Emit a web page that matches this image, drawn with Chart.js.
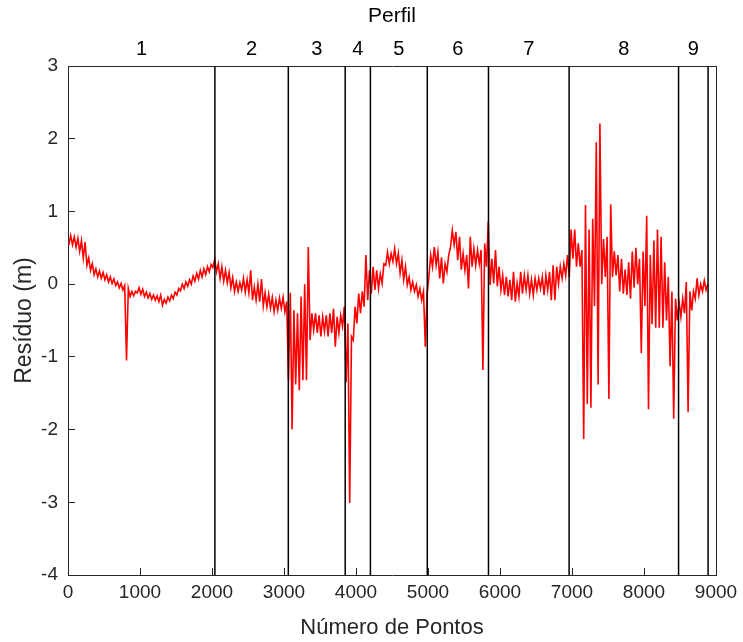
<!DOCTYPE html>
<html>
<head>
<meta charset="utf-8">
<script src="https://cdn.jsdelivr.net/npm/chart.js@4"></script>
<style>
  body { margin: 0; background: #fff; }
  #box { width: 743px; height: 642px; }
</style>
</head>
<body>
<div id="box"><canvas id="grafico"></canvas></div>
<script>
// Limites e rótulos dos perfis (número de pontos)
const perfilLimites = [2040, 3060, 3850, 4200, 4990, 5840, 6960, 8480, 8890];
const perfilCentros = [1020, 2550, 3455, 4025, 4595, 5415, 6400, 7720, 8685];
const perfilRotulos = ["1", "2", "3", "4", "5", "6", "7", "8", "9"];

const xTicks = [0, 1000, 2000, 3000, 4000, 5000, 6000, 7000, 8000, 9000];
const yTicks = [-4, -3, -2, -1, 0, 1, 2, 3];

// Resíduo: mínimo e máximo em cada bloco de 50 pontos
const passo = 50;
const residuoMin = [
  0.54, 0.54, 0.51, 0.45, 0.36, 0.26, 0.19, 0.13, 0.10, 0.08,        // 0
  0.06, 0.03, 0.01, -0.02, -0.05, -0.08, -1.05, -0.17, -0.16, -0.12, // 500
  -0.14, -0.17, -0.19, -0.21, -0.22, -0.24, -0.29, -0.26, -0.23, -0.20, // 1000
  -0.15, -0.09, -0.06, -0.03, 0.00, 0.04, 0.07, 0.10, 0.13, 0.17,   // 1500
  0.23, 0.17, 0.08, 0.04, 0.02, -0.05, -0.10, -0.10, -0.08, -0.11,  // 2000
  -0.12, -0.22, -0.22, -0.24, -0.30, -0.31, -0.33, -0.38, -0.36, -0.33, // 2500
  -0.38, -1.32, -2.00, -1.38, -1.46, -1.32, -1.32, -0.77, -0.63, -0.67, // 3000
  -0.72, -0.65, -0.72, -0.67, -0.86, -0.67, -0.58, -1.35, -3.01, -0.77, // 3500
  -0.54, -0.40, -0.31, -0.22, -0.13, -0.08, -0.06, 0.01, 0.26, 0.28,  // 4000
  0.31, 0.28, 0.15, 0.06, -0.01, -0.08, -0.10, -0.17, -0.22, -0.86,  // 4500
  0.10, 0.24, 0.26, 0.08, 0.01, 0.17, 0.51, 0.54, 0.33, 0.20,        // 5000
  0.19, -0.06, 0.24, 0.26, 0.28, -1.18, 0.24, -0.01, 0.01, -0.03,    // 5500
  -0.08, -0.15, -0.17, -0.22, -0.24, -0.17, -0.13, -0.08, -0.13, -0.15, // 6000
  -0.08, -0.06, -0.15, -0.08, -0.22, -0.22, 0.01, 0.08, 0.12, 0.10,  // 6500
  0.35, 0.24, 0.24, -2.13, -1.65, -1.70, -0.30, -1.38, 0.00, 0.10,   // 7000
  -1.58, 0.10, 0.12, -0.10, -0.13, -0.15, -0.20, -0.05, 0.00, -0.95, // 7500
  -0.30, -1.72, -0.55, -0.60, -0.60, -0.60, -0.50, -1.13, -1.85, -0.50, // 8000
  -0.45, -0.40, -1.76, -0.36, -0.20, -0.15, -0.10, -0.08              // 8500
];
const residuoMax = [
  0.67, 0.65, 0.63, 0.60, 0.58, 0.36, 0.28, 0.21, 0.18, 0.16,        // 0
  0.13, 0.10, 0.07, 0.03, 0.01, -0.02, -0.06, -0.10, -0.10, -0.05,   // 500
  -0.07, -0.11, -0.13, -0.15, -0.16, -0.15, -0.21, -0.18, -0.15, -0.11, // 1000
  -0.06, 0.00, 0.03, 0.06, 0.11, 0.15, 0.19, 0.21, 0.24, 0.27,       // 1500
  0.34, 0.28, 0.24, 0.19, 0.16, 0.09, 0.03, 0.02, 0.08, 0.06,        // 2000
  0.19, -0.04, 0.00, 0.07, -0.12, -0.14, -0.18, -0.22, -0.19, -0.18, // 2500
  -0.24, -0.12, -0.36, -0.40, -0.17, 0.00, 0.51, -0.40, -0.40, -0.43, // 3000
  -0.45, -0.43, -0.40, -0.34, -0.45, -0.43, -0.31, -0.54, -0.72, -0.31, // 3500
  -0.13, -0.10, 0.40, 0.19, 0.24, 0.19, 0.14, 0.28, 0.44, 0.42,      // 4000
  0.49, 0.42, 0.33, 0.24, 0.10, 0.03, -0.01, -0.06, -0.10, -0.13,    // 4500
  0.40, 0.51, 0.44, 0.37, 0.28, 0.40, 0.74, 0.72, 0.65, 0.42,        // 5000
  0.40, 0.65, 0.49, 0.47, 0.47, 0.56, 0.86, 0.35, 0.47, 0.24,        // 5500
  0.12, 0.10, 0.06, 0.17, 0.01, 0.17, 0.12, 0.12, 0.06, 0.08,        // 6000
  0.08, 0.10, 0.12, 0.17, 0.26, 0.24, 0.24, 0.28, 0.40, 0.75,        // 6500
  0.75, 0.56, 0.47, 1.09, 0.75, 0.90, 1.95, 2.21, 0.62, 0.65,        // 7000
  1.10, 0.45, 0.40, 0.35, 0.20, 0.30, 0.45, 0.50, 0.35, 0.45,        // 7500
  0.94, 0.40, 0.60, 0.75, 0.65, 0.30, 0.10, -0.10, -0.20, -0.25,     // 8000
  -0.20, 0.03, -0.10, -0.10, 0.08, 0.00, 0.05, 0.00                  // 8500
];

// Monta a série: em cada bloco vai do mínimo ao máximo
const pontos = [];
residuoMin.forEach((v, i) => {
  const x0 = i * passo;
  pontos.push({ x: x0 + passo * 0.25, y: v });
  pontos.push({ x: x0 + passo * 0.75, y: residuoMax[i] });
});

// Linhas verticais que separam os perfis
const limites = [];
perfilLimites.forEach((b) => {
  limites.push({ x: b, y: -4 });
  limites.push({ x: b, y: 3 });
  limites.push({ x: b, y: null });
});

const fonte = "'Liberation Sans', Arial, sans-serif";
const eixo = "#262626";

// tamanho fixo das caixas dos eixos, sem a folga extra dos rótulos
function fixaCaixa(tam, horizontal) {
  return (s) => {
    if (horizontal) s.height = tam; else s.width = tam;
    s.paddingLeft = 0;
    s.paddingRight = 0;
    s.paddingTop = 0;
    s.paddingBottom = 0;
  };
}

new Chart(document.getElementById("grafico"), {
  type: "line",
  data: {
    datasets: [
      {
        label: "Perfis",
        data: limites,
        borderColor: "#000",
        borderWidth: 1.5,
        pointRadius: 0,
        spanGaps: false,
        order: 0,
      },
      {
        label: "Resíduo",
        data: pontos,
        borderColor: "#ff0000",
        borderWidth: 1.6,
        pointRadius: 0,
        tension: 0,
        order: 1,
      },
    ],
  },
  options: {
    responsive: true,
    maintainAspectRatio: false,
    animation: false,
    layout: { padding: 0, autoPadding: false },
    plugins: { legend: { display: false }, tooltip: { enabled: false } },
    scales: {
      x: {
        type: "linear",
        position: "bottom",
        min: 0,
        max: 9000,
        afterBuildTicks: (s) => { s.ticks = xTicks.map((v) => ({ value: v })); },
        afterFit: fixaCaixa(67, true),
        ticks: {
          color: eixo,
          font: { family: fonte, size: 19 },
          padding: 13,
          maxRotation: 0,
          autoSkip: false,
          callback: (v) => String(v),
        },
        grid: { drawOnChartArea: false, tickLength: -7, color: eixo },
        border: { color: eixo },
        title: { display: true, text: "Número de Pontos", color: eixo, font: { family: fonte, size: 22 }, padding: { top: 0, bottom: 1 } },
      },
      x2: {
        type: "linear",
        position: "top",
        min: 0,
        max: 9000,
        afterBuildTicks: (s) => { s.ticks = perfilCentros.map((v) => ({ value: v })); },
        afterFit: fixaCaixa(66, true),
        ticks: {
          color: "#000",
          font: { family: fonte, size: 20 },
          padding: 5,
          maxRotation: 0,
          autoSkip: false,
          callback: (v, i) => perfilRotulos[i],
        },
        grid: { drawOnChartArea: false, drawTicks: false },
        border: { color: eixo },
        title: { display: true, text: "Perfil", color: "#000", font: { family: fonte, size: 21 }, padding: { top: 4, bottom: 0 } },
      },
      y: {
        type: "linear",
        position: "left",
        min: -4,
        max: 3,
        afterBuildTicks: (s) => { s.ticks = yTicks.map((v) => ({ value: v })); },
        afterFit: fixaCaixa(68, false),
        ticks: { color: eixo, font: { family: fonte, size: 19 }, padding: 17 },
        grid: { drawOnChartArea: false, tickLength: -7, color: eixo },
        border: { color: eixo },
        title: { display: true, text: "Resíduo (m)", color: eixo, font: { family: fonte, size: 23 }, padding: { top: 11, bottom: 0 } },
      },
      y2: {
        type: "linear",
        position: "right",
        min: -4,
        max: 3,
        afterFit: fixaCaixa(27, false),
        ticks: { display: false },
        grid: { drawOnChartArea: false, drawTicks: false },
        border: { color: eixo },
      },
    },
  },
});
</script>
</body>
</html>
